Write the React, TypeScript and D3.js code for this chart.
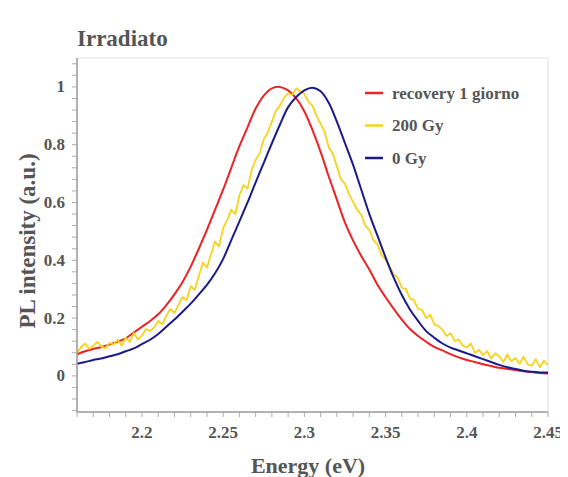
import React from "react";
import * as d3 from "d3";

// ---- data ----
const energyA = [
  2.16, 2.165, 2.17, 2.175, 2.18, 2.185, 2.19, 2.195, 2.2, 2.205, 2.21, 2.215, 2.22, 2.225, 2.23, 2.235,
  2.24, 2.245, 2.25, 2.255, 2.26, 2.265, 2.27, 2.275, 2.28, 2.285, 2.29, 2.295, 2.3, 2.305, 2.31, 2.315,
  2.32, 2.325, 2.33, 2.335, 2.34, 2.345, 2.35, 2.355, 2.36, 2.365, 2.37, 2.375, 2.38, 2.385, 2.39, 2.395,
  2.4, 2.405, 2.41, 2.415, 2.42, 2.425, 2.43, 2.435, 2.44, 2.445, 2.45,
];

const recovery1Giorno = [
  0.075, 0.085, 0.093, 0.1, 0.108, 0.118, 0.13, 0.15, 0.17, 0.19, 0.213, 0.245, 0.282, 0.325, 0.378, 0.44,
  0.505, 0.575, 0.645, 0.72, 0.795, 0.86, 0.925, 0.97, 0.995, 1.0, 0.988, 0.96, 0.915, 0.85, 0.775, 0.69,
  0.61, 0.53, 0.468, 0.415, 0.368, 0.315, 0.272, 0.232, 0.195, 0.162, 0.138, 0.118, 0.1, 0.088, 0.075, 0.064,
  0.055, 0.048, 0.04, 0.034, 0.028, 0.024, 0.02, 0.016, 0.013, 0.01, 0.008,
];

const gy0 = [
  0.042, 0.048, 0.055, 0.06, 0.068, 0.075, 0.085, 0.095, 0.11, 0.125, 0.145, 0.17, 0.195, 0.222, 0.25, 0.282,
  0.315, 0.355, 0.405, 0.47, 0.535, 0.6, 0.67, 0.737, 0.805, 0.87, 0.93, 0.965, 0.988, 0.997, 0.985, 0.945,
  0.88, 0.805, 0.73, 0.645, 0.56, 0.485, 0.41, 0.34, 0.28, 0.23, 0.19, 0.155, 0.132, 0.112, 0.098, 0.088,
  0.078, 0.068, 0.058, 0.048, 0.038, 0.03, 0.024, 0.018, 0.014, 0.012, 0.012,
];

const energyB = [
  2.16, 2.1625, 2.165, 2.1675, 2.17, 2.1725, 2.175, 2.1775, 2.18, 2.1825, 2.185, 2.1875, 2.19, 2.1925, 2.195, 2.1975,
  2.2, 2.2025, 2.205, 2.2075, 2.21, 2.2125, 2.215, 2.2175, 2.22, 2.2225, 2.225, 2.2275, 2.23, 2.2325, 2.235, 2.2375,
  2.24, 2.2425, 2.245, 2.2475, 2.25, 2.2525, 2.255, 2.2575, 2.26, 2.2625, 2.265, 2.2675, 2.27, 2.2725, 2.275, 2.2775,
  2.28, 2.2825, 2.285, 2.2875, 2.29, 2.2925, 2.295, 2.2975, 2.3, 2.3025, 2.305, 2.3075, 2.31, 2.3125, 2.315, 2.3175,
  2.32, 2.3225, 2.325, 2.3275, 2.33, 2.3325, 2.335, 2.3375, 2.34, 2.3425, 2.345, 2.3475, 2.35, 2.3525, 2.355, 2.3575,
  2.36, 2.3625, 2.365, 2.3675, 2.37, 2.3725, 2.375, 2.3775, 2.38, 2.3825, 2.385, 2.3875, 2.39, 2.3925, 2.395, 2.3975,
  2.4, 2.4025, 2.405, 2.4075, 2.41, 2.4125, 2.415, 2.4175, 2.42, 2.4225, 2.425, 2.4275, 2.43, 2.4325, 2.435, 2.4375,
  2.44, 2.4425, 2.445, 2.4475, 2.45,
];

const gy200 = [
  0.078, 0.1, 0.112, 0.094, 0.104, 0.118, 0.101, 0.096, 0.114, 0.108, 0.125, 0.105, 0.132, 0.118, 0.148, 0.126,
  0.14, 0.162, 0.155, 0.168, 0.19, 0.178, 0.208, 0.232, 0.218, 0.246, 0.272, 0.262, 0.31, 0.298, 0.345, 0.392,
  0.375, 0.42, 0.465, 0.448, 0.512, 0.54, 0.575, 0.56, 0.625, 0.66, 0.648, 0.712, 0.748, 0.77, 0.82, 0.842,
  0.88, 0.918, 0.935, 0.962, 0.978, 0.972, 0.995, 0.985, 0.975, 0.948, 0.935, 0.9, 0.872, 0.845, 0.79, 0.77,
  0.725, 0.68, 0.665, 0.628, 0.602, 0.575, 0.558, 0.52, 0.505, 0.47, 0.455, 0.418, 0.402, 0.378, 0.352, 0.34,
  0.305, 0.3, 0.268, 0.262, 0.232, 0.228, 0.2, 0.212, 0.178, 0.172, 0.16, 0.138, 0.148, 0.12, 0.126, 0.105,
  0.098, 0.112, 0.08, 0.09, 0.072, 0.086, 0.06, 0.078, 0.068, 0.048, 0.074, 0.05, 0.062, 0.042, 0.066, 0.04,
  0.035, 0.058, 0.03, 0.052, 0.038,
];

const xTickLabels = [2.2, 2.25, 2.3, 2.35, 2.4, 2.45];
const yTickLabels = [0, 0.2, 0.4, 0.6, 0.8, 1];
const xMinorTicks = [
  2.16, 2.17, 2.18, 2.19, 2.2, 2.21, 2.22, 2.23, 2.24, 2.25, 2.26, 2.27, 2.28, 2.29, 2.3, 2.31, 2.32, 2.33,
  2.34, 2.35, 2.36, 2.37, 2.38, 2.39, 2.4, 2.41, 2.42, 2.43, 2.44, 2.45,
];
const yMinorTicks = [
  -0.12, -0.08, -0.04, 0, 0.04, 0.08, 0.12, 0.16, 0.2, 0.24, 0.28, 0.32, 0.36, 0.4, 0.44, 0.48, 0.52, 0.56,
  0.6, 0.64, 0.68, 0.72, 0.76, 0.8, 0.84, 0.88, 0.92, 0.96, 1, 1.04, 1.08,
];

const seriesNames = ["recovery 1 giorno", "200 Gy", "0 Gy"];
const seriesColors = ["#ee2124", "#f8d31a", "#1b1a8a"];

// ---- layout ----
const W = 568;
const H = 477;
const L = 77;
const R = 548;
const T = 58;
const B = 412;
const FONT = "'Liberation Serif', 'Times New Roman', serif";
const TXT = "#555555";

export default function App() {
  const x = d3.scaleLinear().domain([2.16, 2.45]).range([L, R]);
  const y = d3.scaleLinear().domain([-0.125, 1.1]).range([B, T]);

  const smooth = d3
    .line<[number, number]>()
    .x((d) => x(d[0]))
    .y((d) => y(d[1]))
    .curve(d3.curveCatmullRom);
  const noisy = d3
    .line<[number, number]>()
    .x((d) => x(d[0]))
    .y((d) => y(d[1]))
    .curve(d3.curveLinear);

  const series: [number, number][][] = [
    energyA.map((e, i) => [e, recovery1Giorno[i]] as [number, number]),
    energyB.map((e, i) => [e, gy200[i]] as [number, number]),
    energyA.map((e, i) => [e, gy0[i]] as [number, number]),
  ];
  const drawOrder = [0, 1, 2];

  const fmt = (v: number) => (v === 0 ? "0" : v === 1 ? "1" : String(v));

  return (
    <svg
      width={W}
      height={H}
      style={{ position: "fixed", left: 0, top: 0, background: "#fff" }}
    >
      <defs>
        <clipPath id="plot">
          <rect x={L} y={T} width={R - L} height={B - T} />
        </clipPath>
        <clipPath id="xlab">
          <rect x={0} y={0} width={560} height={H} />
        </clipPath>
      </defs>

      <text x={77} y={46} fontFamily={FONT} fontWeight="bold" fontSize={23} fill={TXT}>
        Irradiato
      </text>

      {/* frame */}
      <line x1={L} x2={R} y1={T} y2={T} stroke="#e2e2e2" strokeWidth={1.2} />
      <line x1={R} x2={R} y1={T} y2={B} stroke="#e2e2e2" strokeWidth={1.2} />

      {/* curves */}
      <g clipPath="url(#plot)">
        {drawOrder.map((i) => (
          <path
            key={i}
            d={(i === 1 ? noisy(series[i]) : smooth(series[i])) || ""}
            fill="none"
            stroke={seriesColors[i]}
            strokeWidth={i === 1 ? 1.8 : 2}
            strokeLinejoin="round"
          />
        ))}
      </g>

      {/* axes */}
      <line x1={L} x2={L} y1={T} y2={B} stroke="#999" strokeWidth={1.5} />
      <line x1={L} x2={R} y1={B} y2={B} stroke="#999" strokeWidth={1.5} />
      {yMinorTicks.map((v) => (
        <line key={"yt" + v} x1={L - 5} x2={L} y1={y(v)} y2={y(v)} stroke="#aaa" strokeWidth={1} />
      ))}
      {xMinorTicks.map((v) => (
        <line key={"xt" + v} x1={x(v)} x2={x(v)} y1={B} y2={B + 5} stroke="#aaa" strokeWidth={1} />
      ))}
      {yTickLabels.map((v) => (
        <text
          key={"yl" + v}
          x={65}
          y={y(v) + 5.5}
          textAnchor="end"
          fontFamily={FONT}
          fontWeight="bold"
          fontSize={17}
          fill={TXT}
        >
          {fmt(v)}
        </text>
      ))}
      <g clipPath="url(#xlab)">
        {xTickLabels.map((v) => (
          <text
            key={"xl" + v}
            x={x(v)}
            y={438}
            textAnchor="middle"
            fontFamily={FONT}
            fontWeight="bold"
            fontSize={17}
            fill={TXT}
          >
            {String(v)}
          </text>
        ))}
      </g>

      <text
        x={308}
        y={473}
        textAnchor="middle"
        fontFamily={FONT}
        fontWeight="bold"
        fontSize={22}
        fill={TXT}
      >
        Energy (eV)
      </text>
      <text
        transform="translate(35,241) rotate(-90)"
        textAnchor="middle"
        fontFamily={FONT}
        fontWeight="bold"
        fontSize={23}
        fill={TXT}
      >
        PL intensity (a.u.)
      </text>

      {/* legend */}
      {seriesNames.map((n, i) => (
        <g key={n} transform={`translate(365,${93 + i * 32.5})`}>
          <line x1={0} x2={18} y1={0} y2={0} stroke={seriesColors[i]} strokeWidth={2.5} />
          <text x={27} y={5.5} fontFamily={FONT} fontWeight="bold" fontSize={17} fill={TXT}>
            {n}
          </text>
        </g>
      ))}
    </svg>
  );
}
